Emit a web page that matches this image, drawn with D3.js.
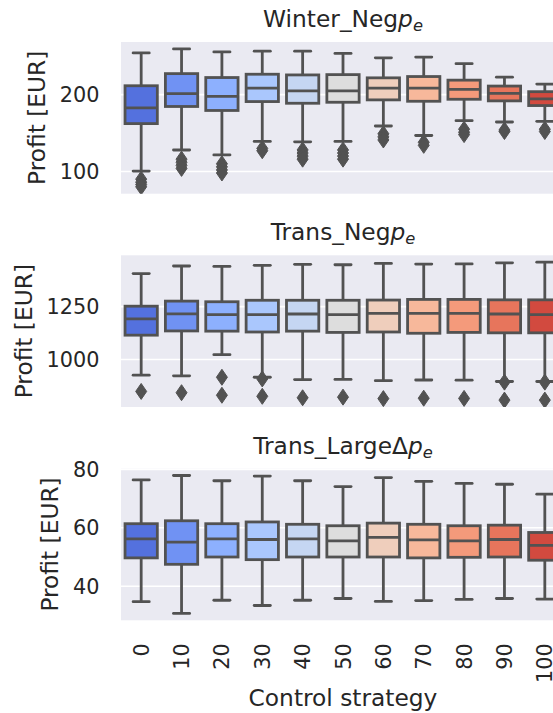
<!DOCTYPE html>
<html>
<head>
<meta charset="utf-8">
<script src="https://cdn.jsdelivr.net/npm/d3@7"></script>
<style>
  body { margin: 0; background: #ffffff; }
  svg { display: block; }
  text { font-family: "DejaVu Sans", sans-serif; fill: #262626; }
</style>
</head>
<body>
<svg id="chart" width="553" height="713"></svg>
<script>
// Control strategies on the x axis
const categories = ["0", "10", "20", "30", "40", "50", "60", "70", "80", "90", "100"];

// coolwarm palette, one colour per strategy
const palette = ["#5471de", "#7092f3", "#8db0fe", "#aac7fd", "#c5d6f2", "#dddddd",
                 "#efcebc", "#f7b89b", "#f49a7b", "#e7755c", "#d24a3f"];

// Panel titles (each followed by the italic p with subscript e)
const titlePrefixes = ["Winter_Neg", "Trans_Neg", "Trans_Large\u0394"];

// Winter_Neg p_e — profit [EUR]
const winterWhiskerLow  = [100.5, 127.9, 121.5, 139.1, 138.6, 139.1, 159.2, 146.8, 166.1, 164.4, 165.3];
const winterQ1          = [162.3, 184.6, 179.4, 191.0, 188.8, 190.1, 193.2, 191.4, 194.0, 191.9, 185.8];
const winterMedian      = [182.9, 201.3, 197.8, 208.6, 204.8, 204.8, 208.6, 208.6, 206.8, 201.7, 194.5];
const winterQ3          = [211.6, 227.4, 222.3, 226.6, 225.7, 226.1, 221.9, 223.6, 218.9, 211.2, 203.9];
const winterWhiskerHigh = [254.4, 259.6, 255.7, 256.6, 256.6, 253.7, 248.0, 248.9, 240.3, 222.8, 213.8];
const winterOutliers = [
  [90, 86, 83, 80], [116, 112, 108, 104], [110, 106, 102, 98], [130, 127],
  [128, 124, 120, 116], [128, 124, 120, 116], [149, 145, 141], [138, 134],
  [155, 151, 148], [154, 152], [155, 152]
];
const winterTicks = [100, 200];

// Trans_Neg p_e — profit [EUR]
const transNegWhiskerLow  = [926, 923, 1023, 916, 905, 906, 900, 903, 902, 896, 896];
const transNegQ1          = [1115, 1135, 1134, 1130, 1134, 1128, 1130, 1124, 1128, 1126, 1126];
const transNegMedian      = [1192, 1216, 1212, 1212, 1215, 1212, 1218, 1218, 1218, 1215, 1212];
const transNegQ3          = [1252, 1276, 1273, 1280, 1280, 1280, 1281, 1284, 1284, 1282, 1282];
const transNegWhiskerHigh = [1406, 1442, 1440, 1445, 1450, 1448, 1454, 1451, 1452, 1457, 1460];
const transNegOutliers = [
  [849], [843], [916, 831], [908, 826], [819], [822], [815], [817], [816], [893, 808], [893, 808]
];
const transNegTicks = [1000, 1250];

// Trans_Large Δp_e — profit [EUR]
const transLargeWhiskerLow  = [34.7, 30.7, 35.2, 33.4, 35.2, 35.8, 34.8, 35.1, 35.5, 35.8, 35.6];
const transLargeQ1          = [49.7, 47.5, 50.0, 49.1, 50.0, 50.0, 50.0, 49.7, 49.9, 50.0, 48.9];
const transLargeMedian      = [56.2, 55.1, 56.2, 56.0, 56.2, 55.5, 56.7, 55.9, 55.5, 56.0, 54.0];
const transLargeQ3          = [61.4, 62.4, 61.4, 62.0, 61.2, 60.7, 61.6, 61.2, 60.7, 60.9, 58.4];
const transLargeWhiskerHigh = [76.4, 77.9, 76.1, 77.7, 76.1, 74.1, 77.2, 75.9, 75.2, 74.9, 71.5];
const transLargeOutliers = [[], [], [], [], [], [], [], [], [], [], []];
const transLargeTicks = [40, 60, 80];

const panels = [
  { title: titlePrefixes[0], lo: winterWhiskerLow, q1: winterQ1, med: winterMedian, q3: winterQ3,
    hi: winterWhiskerHigh, out: winterOutliers, ticks: winterTicks },
  { title: titlePrefixes[1], lo: transNegWhiskerLow, q1: transNegQ1, med: transNegMedian, q3: transNegQ3,
    hi: transNegWhiskerHigh, out: transNegOutliers, ticks: transNegTicks },
  { title: titlePrefixes[2], lo: transLargeWhiskerLow, q1: transLargeQ1, med: transLargeMedian, q3: transLargeQ3,
    hi: transLargeWhiskerHigh, out: transLargeOutliers, ticks: transLargeTicks }
];

// Layout
const axLeft = 121, axRight = 565;
const panelTop0 = 42, panelStep = 213.3, panelHeight = 151.7;
const lineColor = "#525252";
const lineWidth = 2.8;
const tickFont = 20.8, labelFont = 23.3;

const svg = d3.select("#chart");

const x = d3.scaleBand().domain(categories).range([axLeft, axRight]).paddingInner(0).paddingOuter(0);
const bw = x.bandwidth();
const boxW = bw * 0.8;
const capW = boxW * 0.5;

// thin diamond marker for outliers
const diamond = (cx, cy) => {
  const hw = 5.5, hh = 8;
  return `M${cx},${cy - hh}L${cx + hw},${cy}L${cx},${cy + hh}L${cx - hw},${cy}Z`;
};

panels.forEach((p, pi) => {
  const top = panelTop0 + pi * panelStep;
  const bottom = top + panelHeight;

  // y-limits: data extent plus 5% margins
  const allVals = [].concat(p.lo, p.hi, ...p.out);
  const dMin = d3.min(allVals), dMax = d3.max(allVals);
  const pad = 0.05 * (dMax - dMin);
  const y = d3.scaleLinear().domain([dMin - pad, dMax + pad]).range([bottom, top]);

  const g = svg.append("g");

  const clipId = "clip" + pi;
  svg.append("clipPath").attr("id", clipId)
    .append("rect").attr("x", axLeft).attr("y", top).attr("width", axRight - axLeft).attr("height", panelHeight);

  // background
  g.append("rect").attr("x", axLeft).attr("y", top)
    .attr("width", axRight - axLeft).attr("height", panelHeight).attr("fill", "#eaeaf2");

  // horizontal grid
  const ticks = p.ticks.filter(t => t >= y.domain()[0] && t <= y.domain()[1]);
  g.selectAll("line.grid").data(ticks).join("line")
    .attr("class", "grid")
    .attr("x1", axLeft).attr("x2", axRight)
    .attr("y1", d => y(d)).attr("y2", d => y(d))
    .attr("stroke", "#ffffff").attr("stroke-width", 1.6);

  // y tick labels
  const yAxis = g.append("g");
  yAxis.selectAll("text").data(ticks).join("text")
    .attr("x", 99.5).attr("y", d => y(d)).attr("dy", "0.36em")
    .attr("text-anchor", "end").attr("font-size", tickFont)
    .text(d => d);

  // boxes
  const marks = g.append("g").attr("clip-path", `url(#${clipId})`);
  categories.forEach((c, i) => {
    const cx = x(c) + bw / 2;
    const bg = marks.append("g");
    // whiskers
    bg.append("line").attr("x1", cx).attr("x2", cx).attr("y1", y(p.q1[i])).attr("y2", y(p.lo[i]))
      .attr("stroke", lineColor).attr("stroke-width", lineWidth);
    bg.append("line").attr("x1", cx).attr("x2", cx).attr("y1", y(p.q3[i])).attr("y2", y(p.hi[i]))
      .attr("stroke", lineColor).attr("stroke-width", lineWidth);
    // caps
    [p.lo[i], p.hi[i]].forEach(v => {
      bg.append("line").attr("x1", cx - capW / 2).attr("x2", cx + capW / 2)
        .attr("y1", y(v)).attr("y2", y(v))
        .attr("stroke", lineColor).attr("stroke-width", lineWidth).attr("stroke-linecap", "round");
    });
    // box
    bg.append("rect").attr("x", cx - boxW / 2).attr("width", boxW)
      .attr("y", y(p.q3[i])).attr("height", y(p.q1[i]) - y(p.q3[i]))
      .attr("fill", palette[i]).attr("stroke", lineColor).attr("stroke-width", lineWidth);
    // median
    bg.append("line").attr("x1", cx - boxW / 2).attr("x2", cx + boxW / 2)
      .attr("y1", y(p.med[i])).attr("y2", y(p.med[i]))
      .attr("stroke", lineColor).attr("stroke-width", lineWidth);
    // outliers
    bg.selectAll("path").data(p.out[i]).join("path")
      .attr("d", v => diamond(cx, y(v)))
      .attr("fill", lineColor).attr("stroke", lineColor).attr("stroke-width", 1);
  });

  // title with italic p and subscript e
  const t = g.append("text")
    .attr("x", (axLeft + axRight) / 2).attr("y", top - 15)
    .attr("text-anchor", "middle").attr("font-size", labelFont);
  t.append("tspan").text(p.title);
  t.append("tspan").attr("font-style", "italic").text("p");
  t.append("tspan").attr("font-style", "italic").attr("font-size", labelFont * 0.7)
    .attr("dy", 4).text("e");

  // y label placed left of the tick labels
  const tb = yAxis.node().getBBox();
  const ylx = tb.x - 15;
  g.append("text")
    .attr("transform", `translate(${ylx},${(top + bottom) / 2}) rotate(-90)`)
    .attr("text-anchor", "middle").attr("font-size", labelFont)
    .text("Profit [EUR]");

  // x tick labels only on the bottom panel
  if (pi === panels.length - 1) {
    g.append("g").selectAll("text").data(categories).join("text")
      .attr("transform", d => `translate(${x(d) + bw / 2},${bottom + 23}) rotate(-90)`)
      .attr("text-anchor", "end").attr("dy", "0.36em").attr("font-size", tickFont)
      .text(d => d);
    g.append("text")
      .attr("x", (axLeft + axRight) / 2).attr("y", 706)
      .attr("text-anchor", "middle").attr("font-size", labelFont)
      .text("Control strategy");
  }
});
</script>
</body>
</html>
